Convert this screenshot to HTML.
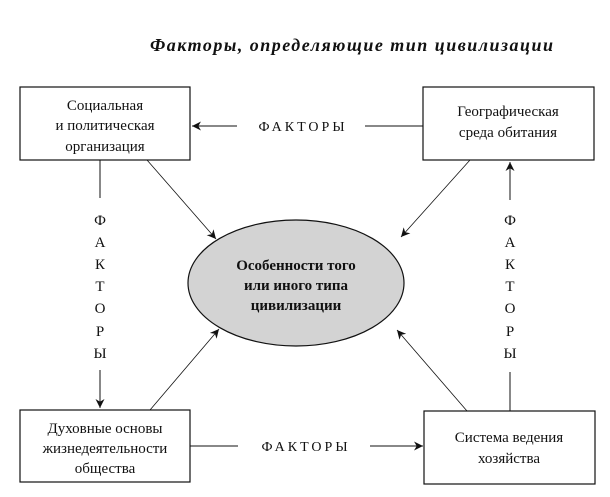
<!DOCTYPE html>
<html><head><meta charset="utf-8"><style>
body{margin:0;background:#fff}
svg{display:block}
text{font-family:"Liberation Serif","DejaVu Serif",serif;fill:#111}
</style></head><body>
<svg width="610" height="497" viewBox="0 0 610 497" xmlns="http://www.w3.org/2000/svg">
<defs>
<marker id="a" viewBox="0 0 10 10" refX="10" refY="5" markerWidth="9" markerHeight="9" markerUnits="userSpaceOnUse" orient="auto">
<path d="M0,0 L10,5 L0,10 L3,5 Z" fill="#111"/></marker>
</defs>
<text x="150" y="51" font-size="18" font-style="italic" font-weight="bold" textLength="403" lengthAdjust="spacing">Факторы, определяющие тип цивилизации</text>
<g fill="none" stroke="#111" stroke-width="1.2">
<rect x="20" y="87" width="170" height="73"/>
<rect x="423" y="87" width="171" height="73"/>
<rect x="20" y="410" width="170" height="72"/>
<rect x="424" y="411" width="171" height="73"/>
</g>
<ellipse cx="296" cy="283" rx="108" ry="63" fill="#d3d3d3" stroke="#111" stroke-width="1.2"/>
<g stroke="#111" stroke-width="1">
<line x1="237" y1="126" x2="192" y2="126" marker-end="url(#a)"/>
<line x1="365" y1="126" x2="423" y2="126"/>
<line x1="190" y1="446" x2="238" y2="446"/>
<line x1="370" y1="446" x2="423" y2="446" marker-end="url(#a)"/>
<line x1="100" y1="160" x2="100" y2="198"/>
<line x1="100" y1="370" x2="100" y2="408" marker-end="url(#a)"/>
<line x1="510" y1="200" x2="510" y2="162" marker-end="url(#a)"/>
<line x1="510" y1="372" x2="510" y2="411"/>
<line x1="147" y1="160" x2="216" y2="239" marker-end="url(#a)" stroke-width="0.8"/>
<line x1="470" y1="160" x2="401" y2="237" marker-end="url(#a)" stroke-width="0.8"/>
<line x1="150" y1="410" x2="219" y2="329" marker-end="url(#a)" stroke-width="0.8"/>
<line x1="467" y1="411" x2="397" y2="330" marker-end="url(#a)" stroke-width="0.8"/>
</g>
<g font-size="15" text-anchor="middle">
<text x="105" y="110">Социальная</text>
<text x="105" y="130">и политическая</text>
<text x="105" y="151">организация</text>
<text x="508" y="116">Географическая</text>
<text x="508" y="137">среда обитания</text>
<text x="105" y="433">Духовные основы</text>
<text x="105" y="453">жизнедеятельности</text>
<text x="105" y="473">общества</text>
<text x="509" y="442">Система ведения</text>
<text x="509" y="463">хозяйства</text>
</g>
<g font-size="15" font-weight="bold" text-anchor="middle">
<text x="296" y="270">Особенности того</text>
<text x="296" y="290">или иного типа</text>
<text x="296" y="310">цивилизации</text>
</g>
<g font-size="14" text-anchor="middle" letter-spacing="3">
<text x="303" y="131">ФАКТОРЫ</text>
<text x="306" y="451">ФАКТОРЫ</text>
</g>
<g font-size="15" text-anchor="middle">
<text x="100" y="225">Ф</text><text x="100" y="247">А</text><text x="100" y="269">К</text><text x="100" y="291">Т</text><text x="100" y="313">О</text><text x="100" y="336">Р</text><text x="100" y="358">Ы</text>
<text x="510" y="225">Ф</text><text x="510" y="247">А</text><text x="510" y="269">К</text><text x="510" y="291">Т</text><text x="510" y="313">О</text><text x="510" y="336">Р</text><text x="510" y="358">Ы</text>
</g>
</svg>
</body></html>
